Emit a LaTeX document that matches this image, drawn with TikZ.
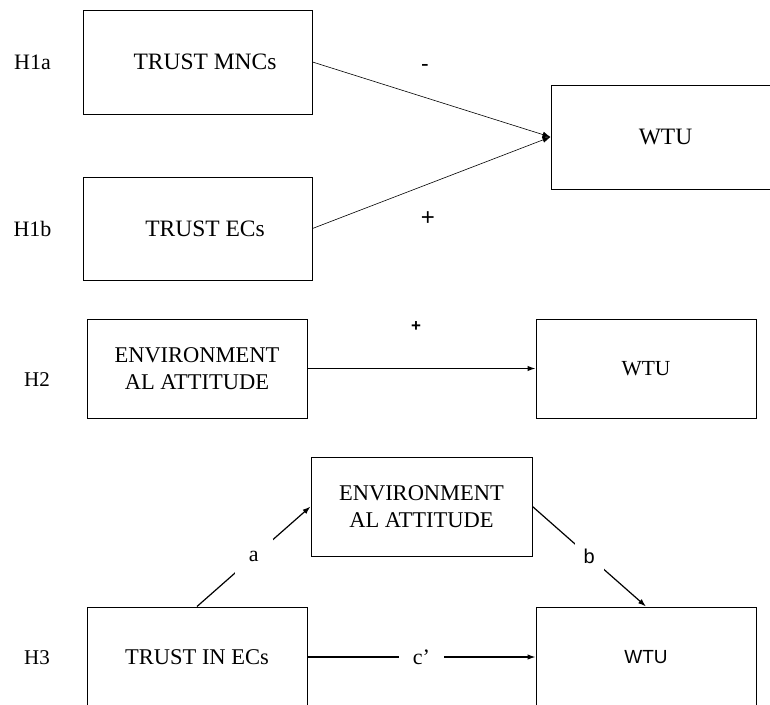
\documentclass[tikz,border=0pt]{standalone}
\usepackage{fontspec}
\setmainfont{Liberation Serif}
\newfontfamily\arialf{Liberation Sans}
\usetikzlibrary{arrows.meta}
\begin{document}
\begin{tikzpicture}[x=1pt,y=-1pt,
  box/.style={draw=black,line width=1pt,inner sep=0pt,align=center},
  bigtxt/.style={font=\fontsize{23.5}{28}\selectfont},
  midtxt/.style={font=\fontsize{22.5}{27.5}\selectfont},
  hlab/.style={font=\fontsize{22}{26}\selectfont,inner sep=0pt},
  thinarr/.style={line width=0.6pt,-{Latex[length=8pt,width=6pt]}},
  arr/.style={line width=1.2pt,-{Latex[length=8pt,width=5.5pt]}},
  gaplab/.style={fill=white,inner sep=0pt}
]
\useasboundingbox (0,0) rectangle (770,704);
\clip (0,0) rectangle (770,704);
% ---------- H1 ----------
\node[hlab] (h1a) at (32.5,62) {H1a};
\node[hlab] (h1b) at (32.5,229) {H1b};
\node[box,bigtxt,minimum width=229pt,minimum height=104pt] (mnc) at (197.5,62) {\hspace*{15pt}TRUST MNCs};
\node[box,bigtxt,minimum width=229pt,minimum height=103pt] (ecs) at (197.5,228.5) {\hspace*{15pt}TRUST ECs};
\node[box,bigtxt,minimum width=229pt,minimum height=104pt] (wtua) at (665.5,137) {WTU};
\draw[thinarr] (mnc.east) -- (wtua.west);
\draw[thinarr] (ecs.east) -- (wtua.west);
\node[font=\arialf\fontsize{23}{26}\selectfont,inner sep=0pt] (minus) at (425,68) {-};
\node[font=\arialf\fontsize{24}{28}\selectfont,inner sep=0pt] (plusa) at (428,219) {+};
% ---------- H2 ----------
\node[hlab,font=\fontsize{21}{25}\selectfont] (h2) at (37,380) {H2};
\node[box,midtxt,minimum width=220pt,minimum height=99pt] (envb) at (197,368.5) {ENVIRONMENT\\AL ATTITUDE};
\node[box,font=\fontsize{21.5}{26}\selectfont,minimum width=220pt,minimum height=99pt] (wtub) at (646,368.5) {WTU};
\draw[arr] (envb.east) -- (wtub.west);
\node[font=\arialf\bfseries\fontsize{17}{20}\selectfont,inner sep=0pt] (plusb) at (416,327) {+};
% ---------- H3 ----------
\node[hlab,font=\fontsize{21}{25}\selectfont] (h3) at (37,658) {H3};
\node[box,midtxt,minimum width=221pt,minimum height=99pt] (envc) at (421.5,506.5) {ENVIRONMENT\\AL ATTITUDE};
\node[box,font=\fontsize{22.5}{27}\selectfont,minimum width=220pt,minimum height=100pt] (trin) at (197,657) {TRUST IN ECs};
\node[box,font=\arialf\fontsize{19}{23}\selectfont,minimum width=220pt,minimum height=100pt] (wtuc) at (646,657) {WTU};
\draw[arr] (trin.north) -- node[gaplab,inner xsep=14pt,inner ysep=12pt,font=\fontsize{22}{26}\selectfont] {a} (envc.west);
\draw[arr] (envc.east) -- node[gaplab,inner xsep=9pt,inner ysep=8pt,font=\arialf\fontsize{20}{24}\selectfont] {b} (wtuc.north);
\draw[arr] (trin.east) -- node[gaplab,inner xsep=14pt,inner ysep=3pt,font=\fontsize{22}{26}\selectfont] {c’} (wtuc.west);
\end{tikzpicture}
\end{document}
